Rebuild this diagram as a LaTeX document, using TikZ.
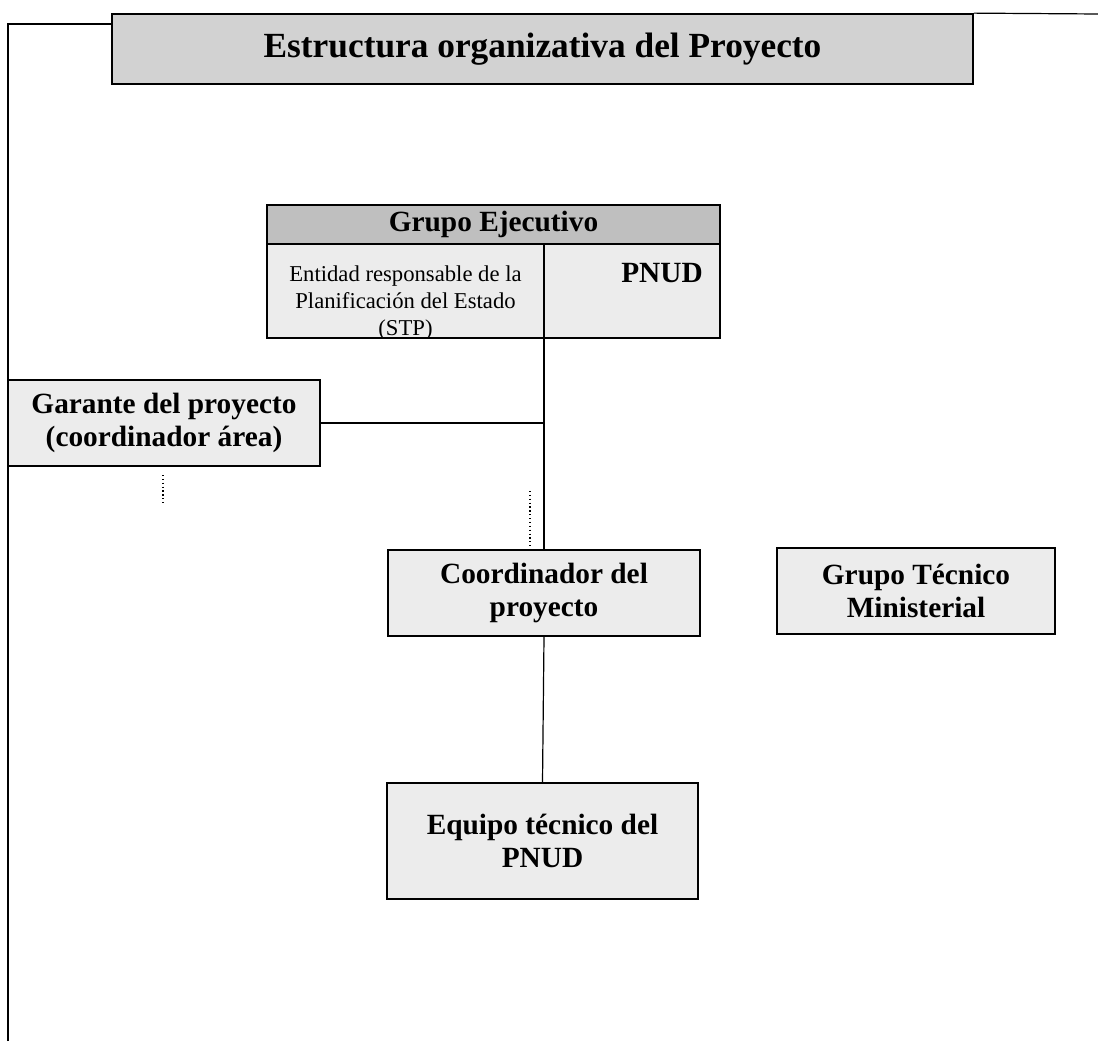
\documentclass[tikz,border=0pt]{standalone}
\usepackage{fontspec}
\setmainfont{Liberation Serif}
\begin{document}
\begin{tikzpicture}[x=0.75pt,y=-0.75pt,
  box/.style={draw=black, line width=1.3pt, inner sep=0pt, align=center},
  lightbox/.style={box, fill=gray!15},
  titlebox/.style={box, fill=gray!35},
  headbox/.style={box, fill=gray!50},
  bigtxt/.style={font=\fontsize{22}{25}\selectfont\bfseries},
  link/.style={draw=black, line width=0.9pt},
  dotlink/.style={draw=black, line width=0.9pt, dotted}]
\useasboundingbox (0,0) rectangle (1098,1041);
% title
\node[titlebox, minimum width=861*0.75pt, minimum height=70*0.75pt,
      font=\fontsize{26.5}{30}\selectfont\bfseries] (title) at (542.5,49)
      {Estructura organizativa del Proyecto};
% frame
\coordinate (fl) at (8,1041);
\coordinate (ft) at (8,24);
\coordinate (fr) at (1098,14);
\draw[link] (fl) -- (ft) -- (ft -| title.west);
\draw[link] (title.north east) -- (fr);
% Grupo Ejecutivo
\node[headbox, bigtxt, minimum width=453*0.75pt, minimum height=39*0.75pt] (gehead) at (493.5,224.5) {Grupo Ejecutivo};
\node[lightbox, minimum width=277*0.75pt, minimum height=94*0.75pt] (geent) at (405.5,291) {};
\begin{scope}
\clip ([yshift=0.9pt]geent.south west) rectangle (geent.north east);
\node[inner sep=0pt, align=center, font=\fontsize{17}{20}\selectfont] (entxt) at (405.5,303)
      {Entidad responsable de la\\Planificación del Estado\\(STP)};
\end{scope}
\node[lightbox, minimum width=176*0.75pt, minimum height=94*0.75pt] (gepnud) at (632,291) {};
\node[bigtxt, inner sep=0pt] (pnud) at (662,273) {PNUD};
% Garante
\node[lightbox, bigtxt, minimum width=312*0.75pt, minimum height=86*0.75pt] (gar) at (164,423)
      {Garante del proyecto\\(coordinador área)};
% Coordinador
\node[lightbox, bigtxt, minimum width=312*0.75pt, minimum height=86*0.75pt] (coord) at (544,593)
      {Coordinador del\\proyecto};
% Grupo Tecnico
\node[lightbox, bigtxt, minimum width=278*0.75pt, minimum height=86*0.75pt] (gtm) at (916,591)
      {Grupo Técnico\\Ministerial};
% Equipo
\node[lightbox, bigtxt, minimum width=311*0.75pt, minimum height=116*0.75pt] (equipo) at (542.5,841)
      {Equipo técnico del\\PNUD};
% connectors
\draw[link] (coord.north) -- (coord.north |- geent.south);
\draw[link] (gar.east) -- (gar.east -| coord.north);
\draw[link] (coord.south) -- (equipo.north);
% dotted marks
\coordinate (d1a) at (163,475);
\coordinate (d1b) at (163,504);
\draw[dotlink] (d1a) -- (d1b);
\coordinate (d2a) at (530,491);
\draw[dotlink] (d2a) -- (d2a |- coord.north);
\end{tikzpicture}
\end{document}
